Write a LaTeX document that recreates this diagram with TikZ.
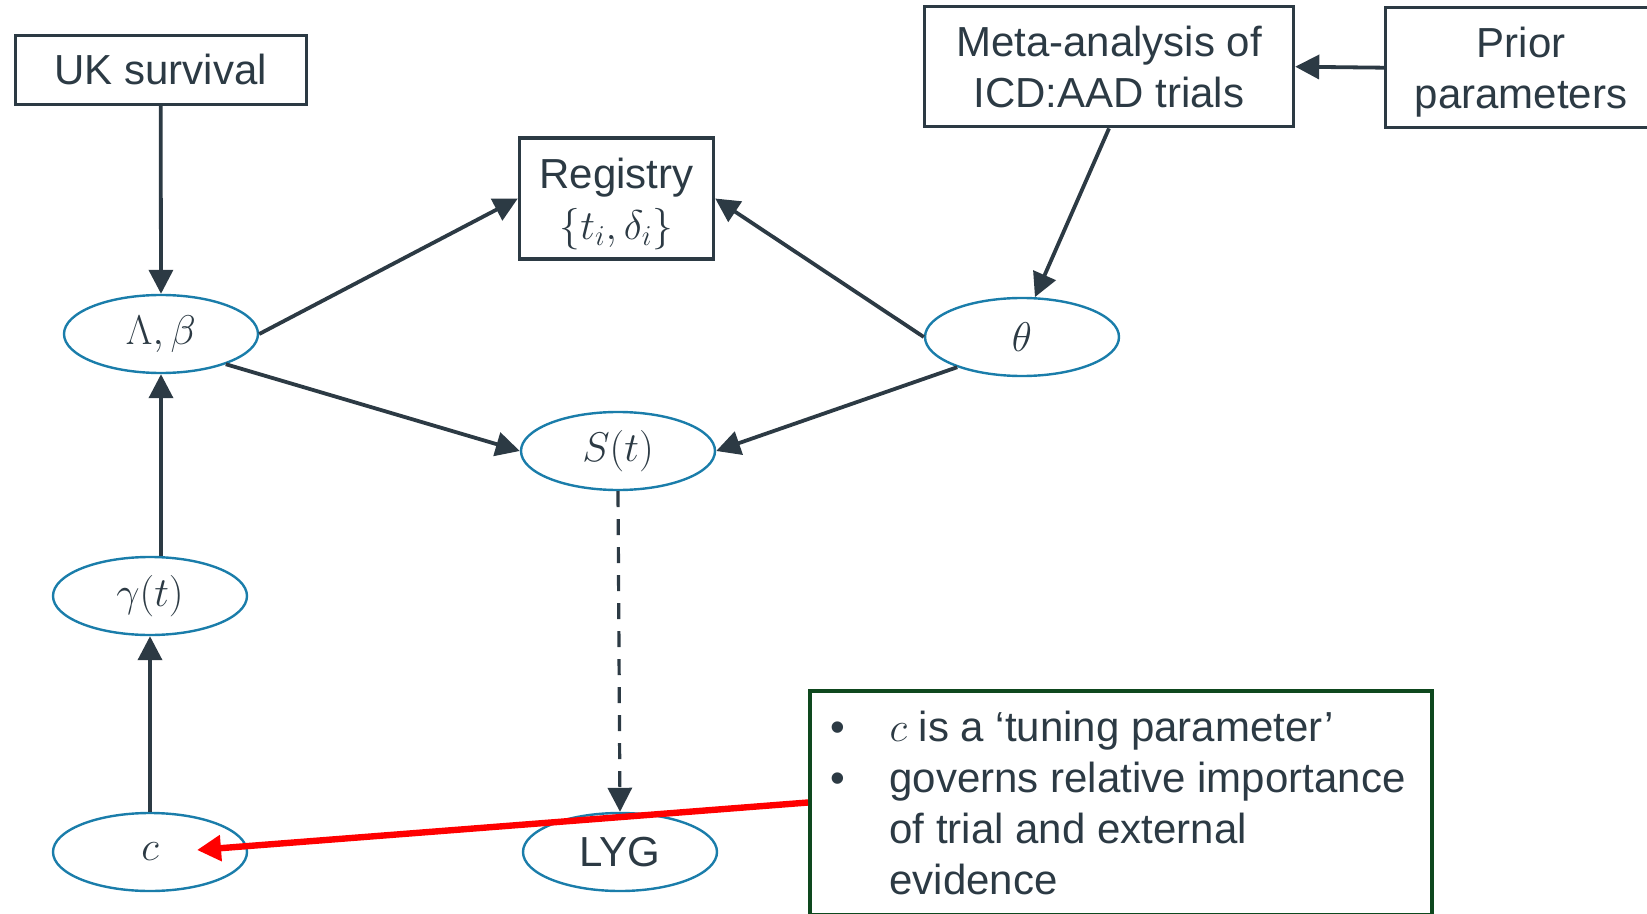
\documentclass[tikz,border=0pt]{standalone}
\usepackage{fontspec}
\setmainfont{Liberation Sans}
\usetikzlibrary{arrows.meta,calc,shapes.geometric}

\definecolor{ink}{RGB}{44,58,68}
\definecolor{ringblue}{RGB}{26,125,170}
\definecolor{notegreen}{RGB}{14,72,30}
\definecolor{alertred}{RGB}{255,0,0}

\tikzset{
  every node/.style={font=\fontsize{21}{25.5}\selectfont, text=ink},
  box/.style={draw=ink, line width=1.7pt, inner sep=0pt, align=center},
  var/.style={ellipse, draw=ringblue, line width=1.2pt, minimum width=97pt,
    minimum height=39pt, inner sep=0pt},
  link/.style={draw=ink, line width=1.9pt, -{Triangle[length=12pt,width=12pt]}},
  derived/.style={draw=ink, line width=1.6pt, dash pattern=on 8pt off 6pt,
    -{Triangle[length=12pt,width=12pt]}},
  pointer/.style={draw=alertred, line width=3.2pt,
    -{Triangle[length=12pt,width=12.5pt]}},
  notebox/.style={draw=notegreen, line width=2pt, inner sep=0pt,
    minimum width=311pt, minimum height=112pt, align=left}
}

\newcommand{\bulletitem}{\makebox[26.5pt][l]{\hspace*{-3pt}\textbullet}}
\newcommand{\bulletgap}{\hspace*{26.5pt}}
% invisible strut that lowers the first line of a box label
\newcommand{\topstrut}[1]{\rule{0pt}{#1}}

\begin{document}
\begin{tikzpicture}[x=0.5pt,y=-0.5pt]
  \useasboundingbox (0,0) rectangle (1647,914);
  \clip (0,0) rectangle (1647,914);

  % data sources
  \node[box, minimum width=145.5pt, minimum height=34.5pt] (uk) at (160.7,69.9) {UK survival};
  \node[box, minimum width=97pt, minimum height=60.5pt] (reg) at (616.5,198.5)
    {\topstrut{20.3pt}Registry\\ $\{t_i,\delta_i\}$};
  \node[box, minimum width=184.5pt, minimum height=60pt] (meta) at (1109,66.7)
    {Meta-analysis of\\ ICD:AAD trials};
  \node[box, minimum width=135.5pt, minimum height=60pt] (prior) at (1521,67.7)
    {\topstrut{19.2pt}Prior\\ parameters};

  % model quantities
  \node[var] (lb)  at (161,334)  {$\Lambda,\beta$};
  \node[var] (th)  at (1022,337) {$\theta$};
  \node[var] (st)  at (618,451)  {$S(t)$};
  \node[var] (gm)  at (150,596)  {$\gamma(t)$};
  \node[var] (cc)  at (150,852)  {$c$};
  \node[var] (lyg) at (620,852)  {LYG};

  % explanatory note
  \node[notebox] (note) at (1121,802.5) {%
    \bulletitem$c$ is a ‘tuning parameter’\\
    \bulletitem governs relative importance\\
    \bulletgap of trial and external\\
    \bulletgap evidence};

  % dependencies
  \draw[link] (uk.south) -- (lb.north);
  \draw[link] (lb.east) -- (reg.west);
  \draw[link] (th.west) -- (reg.east);
  \draw[link] (meta.south) -- (th.72);
  \draw[link] (prior.west) -- (meta.east);
  \draw[link] (lb.-25) -- (st.west);
  \draw[link] (th.205) -- (st.east);
  \draw[link] (gm.north -| lb.south) -- (lb.south);
  \draw[link] (cc.north) -- (gm.south);
  \draw[derived] (st.south) -- (lyg.north);

  % note pointing at the tuning parameter
  \coordinate (ctip) at ($(cc.center)+(47,-2)$);
  \draw[pointer] (note.west) -- (ctip);
\end{tikzpicture}
\end{document}
